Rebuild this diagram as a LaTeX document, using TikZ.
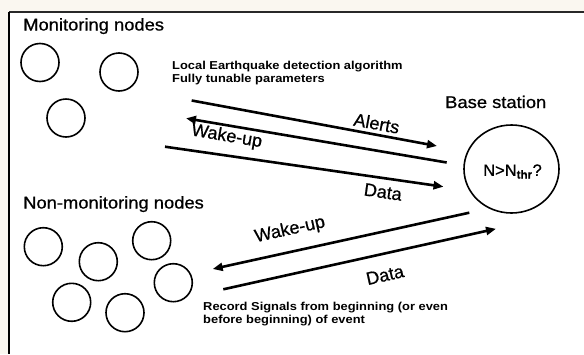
\documentclass[tikz,border=0pt]{standalone}
\usepackage{fontspec}
\setmainfont{Liberation Sans}
\newfontfamily\headfont[FakeBold=0.7]{Liberation Sans}
\usetikzlibrary{arrows.meta,shapes.geometric}
\definecolor{paper}{RGB}{250,247,240}
\definecolor{framec}{RGB}{40,40,40}
\begin{document}
\begin{tikzpicture}[x=1pt,y=-1pt,
  sensor/.style={draw,circle,line width=1.6pt,minimum size=38pt,inner sep=0pt},
  bigtext/.style={inner sep=0pt,xscale=1.08,font=\fontsize{17}{20}\headfont},
  smalltext/.style={inner sep=0pt,xscale=1.12,font=\fontsize{11.5}{13.5}\selectfont\bfseries,align=left},
  msg/.style={line width=2.6pt,-{Triangle[length=10pt,width=8pt]}},
  lbl/.style={inner sep=0pt,font=\fontsize{18}{20}\headfont}]
\useasboundingbox (0,0) rectangle (584,354);
\fill[paper] (0,0) rectangle (584,354);
\fill[white] (9,12) rectangle (584,354);
\draw[framec,line width=2pt] (9,12) -- (584,12);
\draw[black,line width=1.2pt] (9,12) -- (9,354);

% headings
\node[bigtext,anchor=base west] (hmon) at (23,30.5) {Monitoring nodes};
\node[bigtext,anchor=base west] (hnon) at (23,208.5) {Non-monitoring nodes};
\node[bigtext,anchor=base west] (hbase) at (445,108) {Base station};

% annotations
\node[smalltext,anchor=base west] (ann1) at (172,69) {Local Earthquake detection algorithm};
\node[smalltext,anchor=base west] (ann2) at (172,82.5) {Fully tunable parameters};
\node[smalltext,anchor=base west] (ann3) at (203,310) {Record Signals from beginning (or even};
\node[smalltext,anchor=base west] (ann4) at (203,323.5) {before beginning) of event};

% monitoring nodes
\node[sensor] (m1) at (40,62.5) {};
\node[sensor] (m2) at (119,72) {};
\node[sensor] (m3) at (66,118) {};

% non-monitoring nodes
\node[sensor] (n1) at (43.3,246.7) {};
\node[sensor] (n2) at (98.3,261.7) {};
\node[sensor] (n3) at (151.7,240.7) {};
\node[sensor] (n4) at (173.3,282.7) {};
\node[sensor] (n5) at (71.7,302.3) {};
\node[sensor] (n6) at (125,312.7) {};

% base station
\node[draw,ellipse,line width=1.6pt,minimum width=95pt,minimum height=88pt,inner sep=0pt] (bs) at (511.5,169) {};
\node[inner sep=0pt,font=\fontsize{16.5}{19}\headfont] (thr) at (512.5,171.5) {N>N\textsubscript{\bfseries thr}?};

% upper arrows
\coordinate (a1s) at (191.7,100.5);
\coordinate (a1e) at (437,146);
\coordinate (a2s) at (446.7,162.5);
\coordinate (a2e) at (186,118.3);
\coordinate (a3s) at (165,146.7);
\coordinate (a3e) at (443.5,186.7);
\draw[msg] (a1s) -- (a1e);
\draw[msg] (a2s) -- (a2e);
\draw[msg] (a3s) -- (a3e);
\node[lbl,rotate=-10.5] (lalerts) at (376.7,123.3) {Alerts};
\node[lbl,rotate=-9.7] (lwake1) at (226.7,136.7) {Wake-up};
\node[lbl,rotate=-8.2] (ldata1) at (383,192) {Data};

% lower arrows
\coordinate (b1s) at (469.3,212.7);
\coordinate (b1e) at (212.7,269);
\coordinate (b2s) at (223.3,289.3);
\coordinate (b2e) at (496,228.8);
\draw[msg] (b1s) -- (b1e);
\draw[msg] (b2s) -- (b2e);
\node[lbl,rotate=12.4] (lwake2) at (290,230) {Wake-up};
\node[lbl,rotate=12.6] (ldata2) at (385,275) {Data};
\end{tikzpicture}
\end{document}
